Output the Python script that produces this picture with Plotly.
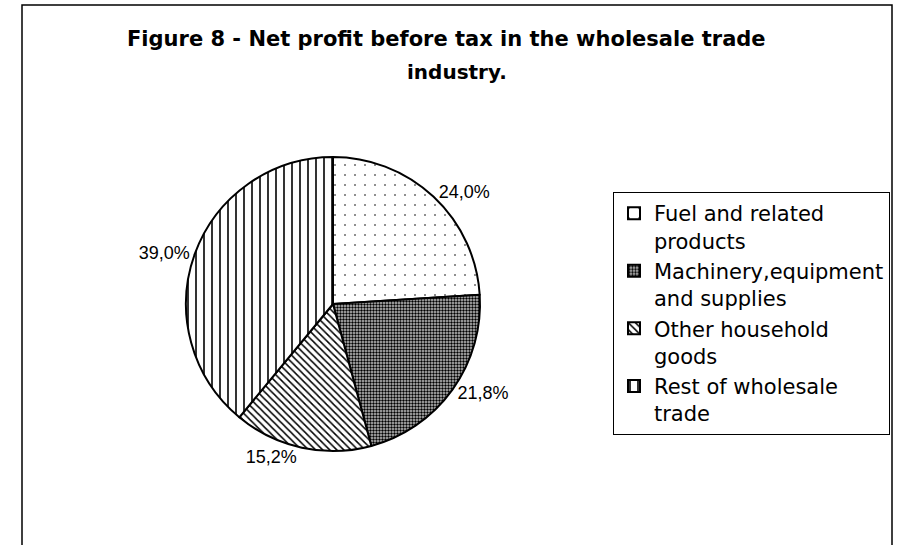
import plotly.graph_objects as go

categories = ["Fuel and related<br>products", "Machinery,equipment<br>and supplies",
              "Other household<br>goods", "Rest of wholesale<br>trade"]
values = [24.0, 21.8, 15.2, 39.0]
value_labels = ["24,0%", "21,8%", "15,2%", "39,0%"]

W, H = 899, 545
cx, cy, r = 333, 304, 147

fig = go.Figure(go.Pie(
    labels=categories,
    values=values,
    text=value_labels,
    textinfo="text",
    textposition="outside",
    sort=False,
    direction="clockwise",
    rotation=0,
    hoverinfo="label+text",
    marker=dict(
        colors=["white", "#8c8c8c", "white", "white"],
        line=dict(color="black", width=2),
        pattern=dict(
            shape=[".", ".", "\\", "|"],
            fgcolor=["black", "black", "black", "black"],
            bgcolor=["white", "#c4c4c4", "white", "white"],
            size=[10, 3, 5, 8],
            solidity=[0.02, 0.5, 0.3, 0.2],
        ),
    ),
    textfont=dict(family="Liberation Sans, Arial", size=18, color="black"),
    domain=dict(x=[(cx - r) / W, (cx + r) / W], y=[1 - (cy + r) / H, 1 - (cy - r) / H]),
))

fig.update_layout(
    width=W, height=H,
    margin=dict(l=0, r=0, t=0, b=0),
    paper_bgcolor="white",
    plot_bgcolor="white",
    font=dict(family="DejaVu Sans", color="black"),
    showlegend=True,
    legend=dict(
        x=613 / W, y=1 - 192 / H, xanchor="left", yanchor="top",
        bordercolor="black", borderwidth=1, bgcolor="white",
        font=dict(size=21, family="DejaVu Sans"),
        valign="top",
        itemwidth=30,
    ),
    shapes=[dict(type="rect", xref="paper", yref="paper",
                 x0=22 / W, x1=892 / W, y0=-0.1, y1=1 - 5 / H,
                 line=dict(color="black", width=1.5), fillcolor="rgba(0,0,0,0)")],
    annotations=[
        dict(text="<b>Figure 8 - Net profit before tax in the wholesale trade</b>",
             x=446 / W, y=1 - 39 / H, xref="paper", yref="paper", showarrow=False,
             xanchor="center", yanchor="middle",
             font=dict(size=21, family="DejaVu Sans")),
        dict(text="<b>industry.</b>",
             x=457 / W, y=1 - 72 / H, xref="paper", yref="paper", showarrow=False,
             xanchor="center", yanchor="middle",
             font=dict(size=20, family="DejaVu Sans")),
    ],
)

fig.write_html("out.html", config={"displayModeBar": False},
               post_script="document.body.style.margin='0px';")
